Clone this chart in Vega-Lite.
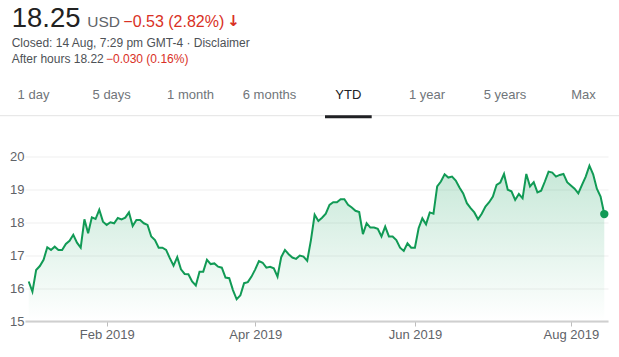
{
  "$schema": "https://vega.github.io/schema/vega-lite/v6.json",
  "autosize": {"type": "none"},
  "padding": {"left": 25, "top": 156.5, "right": 11, "bottom": 36},
  "width": 583,
  "height": 164.5,
  "background": "white",
  "config": {"view": {"stroke": null}, "font": "Liberation Sans", "text": {"font": "Liberation Sans"}},
  "data": {"values": [
    {"date":"2019-01-02","close":16.20},{"date":"2019-01-03","close":15.89},{"date":"2019-01-04","close":16.55},{"date":"2019-01-07","close":16.67},{"date":"2019-01-08","close":16.86},{"date":"2019-01-09","close":17.24},{"date":"2019-01-10","close":17.16},{"date":"2019-01-11","close":17.26},{"date":"2019-01-14","close":17.16},{"date":"2019-01-15","close":17.16},{"date":"2019-01-16","close":17.34},{"date":"2019-01-17","close":17.44},{"date":"2019-01-18","close":17.62},{"date":"2019-01-22","close":17.38},{"date":"2019-01-23","close":17.23},{"date":"2019-01-24","close":18.09},{"date":"2019-01-25","close":17.67},{"date":"2019-01-28","close":18.15},{"date":"2019-01-29","close":18.10},{"date":"2019-01-30","close":18.38},{"date":"2019-01-31","close":18.02},
    {"date":"2019-02-01","close":17.92},{"date":"2019-02-04","close":18.00},{"date":"2019-02-05","close":17.97},{"date":"2019-02-06","close":18.13},{"date":"2019-02-07","close":18.09},{"date":"2019-02-08","close":18.14},{"date":"2019-02-11","close":18.30},{"date":"2019-02-12","close":17.89},{"date":"2019-02-13","close":18.07},{"date":"2019-02-14","close":18.07},{"date":"2019-02-15","close":17.97},{"date":"2019-02-19","close":17.92},{"date":"2019-02-20","close":17.57},{"date":"2019-02-21","close":17.46},{"date":"2019-02-22","close":17.23},{"date":"2019-02-25","close":17.23},{"date":"2019-02-26","close":17.16},{"date":"2019-02-27","close":16.91},{"date":"2019-02-28","close":16.68},
    {"date":"2019-03-01","close":16.94},{"date":"2019-03-04","close":16.57},{"date":"2019-03-05","close":16.43},{"date":"2019-03-06","close":16.42},{"date":"2019-03-07","close":16.20},{"date":"2019-03-08","close":16.08},{"date":"2019-03-11","close":16.50},{"date":"2019-03-12","close":16.50},{"date":"2019-03-13","close":16.86},{"date":"2019-03-14","close":16.73},{"date":"2019-03-15","close":16.75},{"date":"2019-03-18","close":16.65},{"date":"2019-03-19","close":16.62},{"date":"2019-03-20","close":16.32},{"date":"2019-03-21","close":16.30},{"date":"2019-03-22","close":15.94},{"date":"2019-03-25","close":15.66},{"date":"2019-03-26","close":15.78},{"date":"2019-03-27","close":16.15},{"date":"2019-03-28","close":16.18},{"date":"2019-03-29","close":16.35},
    {"date":"2019-04-01","close":16.57},{"date":"2019-04-02","close":16.82},{"date":"2019-04-03","close":16.77},{"date":"2019-04-04","close":16.62},{"date":"2019-04-05","close":16.65},{"date":"2019-04-08","close":16.60},{"date":"2019-04-09","close":16.35},{"date":"2019-04-10","close":16.94},{"date":"2019-04-11","close":17.16},{"date":"2019-04-12","close":17.03},{"date":"2019-04-15","close":16.93},{"date":"2019-04-16","close":16.89},{"date":"2019-04-17","close":16.99},{"date":"2019-04-18","close":16.96},{"date":"2019-04-22","close":16.83},{"date":"2019-04-23","close":17.46},{"date":"2019-04-24","close":18.23},{"date":"2019-04-25","close":18.04},{"date":"2019-04-26","close":18.14},{"date":"2019-04-29","close":18.26},{"date":"2019-04-30","close":18.53},
    {"date":"2019-05-01","close":18.61},{"date":"2019-05-02","close":18.61},{"date":"2019-05-03","close":18.70},{"date":"2019-05-06","close":18.70},{"date":"2019-05-07","close":18.53},{"date":"2019-05-08","close":18.45},{"date":"2019-05-09","close":18.35},{"date":"2019-05-10","close":18.31},{"date":"2019-05-13","close":17.64},{"date":"2019-05-14","close":17.97},{"date":"2019-05-15","close":17.84},{"date":"2019-05-16","close":17.84},{"date":"2019-05-17","close":17.80},{"date":"2019-05-20","close":17.57},{"date":"2019-05-21","close":17.87},{"date":"2019-05-22","close":17.57},{"date":"2019-05-23","close":17.57},{"date":"2019-05-24","close":17.46},{"date":"2019-05-28","close":17.23},{"date":"2019-05-29","close":17.13},{"date":"2019-05-30","close":17.36},{"date":"2019-05-31","close":17.23},
    {"date":"2019-06-03","close":17.23},{"date":"2019-06-04","close":17.82},{"date":"2019-06-05","close":18.12},{"date":"2019-06-06","close":17.94},{"date":"2019-06-07","close":18.30},{"date":"2019-06-10","close":18.26},{"date":"2019-06-11","close":19.09},{"date":"2019-06-12","close":19.24},{"date":"2019-06-13","close":19.46},{"date":"2019-06-14","close":19.36},{"date":"2019-06-17","close":19.39},{"date":"2019-06-18","close":19.27},{"date":"2019-06-19","close":19.06},{"date":"2019-06-20","close":18.88},{"date":"2019-06-21","close":18.58},{"date":"2019-06-24","close":18.43},{"date":"2019-06-25","close":18.30},{"date":"2019-06-26","close":18.09},{"date":"2019-06-27","close":18.26},{"date":"2019-06-28","close":18.48},
    {"date":"2019-07-01","close":18.61},{"date":"2019-07-02","close":18.78},{"date":"2019-07-03","close":19.14},{"date":"2019-07-05","close":19.21},{"date":"2019-07-08","close":19.47},{"date":"2019-07-09","close":18.99},{"date":"2019-07-10","close":18.94},{"date":"2019-07-11","close":18.68},{"date":"2019-07-12","close":18.86},{"date":"2019-07-15","close":18.73},{"date":"2019-07-16","close":19.47},{"date":"2019-07-17","close":19.09},{"date":"2019-07-18","close":19.22},{"date":"2019-07-19","close":18.91},{"date":"2019-07-22","close":18.96},{"date":"2019-07-23","close":19.24},{"date":"2019-07-24","close":19.54},{"date":"2019-07-25","close":19.51},{"date":"2019-07-26","close":19.39},{"date":"2019-07-29","close":19.44},{"date":"2019-07-30","close":19.47},{"date":"2019-07-31","close":19.22},
    {"date":"2019-08-01","close":19.12},{"date":"2019-08-02","close":19.02},{"date":"2019-08-05","close":18.88},{"date":"2019-08-06","close":19.14},{"date":"2019-08-07","close":19.39},{"date":"2019-08-08","close":19.72},{"date":"2019-08-09","close":19.46},{"date":"2019-08-12","close":19.02},{"date":"2019-08-13","close":18.78},{"date":"2019-08-14","close":18.25}
  ]},
  "encoding": {
    "x": {"field": "date", "type": "ordinal", "title": null,
      "scale": {"type": "point", "padding": 1.3},
      "axis": {"values": ["2019-02-01", "2019-04-01", "2019-06-03", "2019-08-01"],
        "labelExpr": "utcFormat(toDate(datum.value), '%b %Y')",
        "labelAngle": 0, "labelFont": "Liberation Sans", "labelFontSize": 13, "labelColor": "#5f6368",
        "labelPadding": 2, "tickSize": 5, "tickColor": "#bdbdbd", "tickWidth": 1,
        "domainColor": "#cfcfcf", "domainWidth": 2, "grid": false}},
    "y": {"field": "close", "type": "quantitative", "title": null,
      "scale": {"domain": [15, 20], "nice": false, "zero": false},
      "axis": {"values": [15, 16, 17, 18, 19, 20], "domain": false, "ticks": false,
        "labelFont": "Liberation Sans", "labelFontSize": 13, "labelColor": "#5f6368", "labelPadding": 1,
        "gridColor": "#efefef", "gridWidth": 1}}
  },
  "layer": [
    {"mark": {"type": "area", "color": {"gradient": "linear", "x1": 0, "y1": 0, "x2": 0, "y2": 1,
      "stops": [{"offset": 0, "color": "rgba(15,157,88,0.24)"}, {"offset": 1, "color": "rgba(15,157,88,0)"}]}},
     "encoding": {"y2": {"datum": 15}}},
    {"mark": {"type": "line", "color": "#119a55", "strokeWidth": 2}},
    {"transform": [{"filter": "datum.date == '2019-08-14'"}],
     "mark": {"type": "point", "filled": true, "color": "#119a55", "opacity": 1, "size": 70}},
    {"data": {"values": [{}]}, "mark": {"type": "rule", "color": "#e3e3e3", "strokeWidth": 1},
     "encoding": {"x": {"value": -25}, "x2": {"value": 594}, "y": {"value": -40.8}}},
    {"data": {"values": [{}]}, "mark": {"type": "rule", "color": "#202124", "strokeWidth": 3},
     "encoding": {"x": {"value": 300}, "x2": {"value": 346.7}, "y": {"value": -39.8}}},
    {"data": {"values": [{}]}, "mark": {"type": "text", "text": "18.25", "fontSize": 27.5, "color": "#222222", "align": "left", "baseline": "alphabetic"},
     "encoding": {"x": {"value": -13.3}, "y": {"value": -129.6}}},
    {"data": {"values": [{}]}, "mark": {"type": "text", "text": "USD", "fontSize": 15.5, "color": "#5f6368", "align": "left", "baseline": "alphabetic"},
     "encoding": {"x": {"value": 62.3}, "y": {"value": -129.8}}},
    {"data": {"values": [{}]}, "mark": {"type": "text", "text": "−0.53 (2.82%)", "fontSize": 16, "color": "#d93025", "align": "left", "baseline": "alphabetic"},
     "encoding": {"x": {"value": 98.3}, "y": {"value": -129.8}}},
    {"data": {"values": [{}]}, "mark": {"type": "text", "text": "↓", "font": "DejaVu Sans", "fontSize": 15, "fontWeight": "bold", "color": "#d93025", "align": "center", "baseline": "alphabetic"},
     "encoding": {"x": {"value": 208.5}, "y": {"value": -130.5}}},
    {"data": {"values": [{}]}, "mark": {"type": "text", "text": "Closed: 14 Aug, 7:29 pm GMT-4 · Disclaimer", "fontSize": 12, "color": "#4d5156", "align": "left", "baseline": "alphabetic"},
     "encoding": {"x": {"value": -13.3}, "y": {"value": -109.2}}},
    {"data": {"values": [{}]}, "mark": {"type": "text", "text": "After hours 18.22", "fontSize": 12, "color": "#4d5156", "align": "left", "baseline": "alphabetic"},
     "encoding": {"x": {"value": -13.3}, "y": {"value": -93.2}}},
    {"data": {"values": [{}]}, "mark": {"type": "text", "text": "−0.030 (0.16%)", "fontSize": 12, "color": "#d93025", "align": "left", "baseline": "alphabetic"},
     "encoding": {"x": {"value": 81}, "y": {"value": -93.2}}},
    {"data": {"values": [{}]}, "mark": {"type": "text", "text": "1 day", "fontSize": 13, "color": "#70757a", "align": "center", "baseline": "alphabetic"},
     "encoding": {"x": {"value": 8.5}, "y": {"value": -57.5}}},
    {"data": {"values": [{}]}, "mark": {"type": "text", "text": "5 days", "fontSize": 13, "color": "#70757a", "align": "center", "baseline": "alphabetic"},
     "encoding": {"x": {"value": 86.7}, "y": {"value": -57.5}}},
    {"data": {"values": [{}]}, "mark": {"type": "text", "text": "1 month", "fontSize": 13, "color": "#70757a", "align": "center", "baseline": "alphabetic"},
     "encoding": {"x": {"value": 165.6}, "y": {"value": -57.5}}},
    {"data": {"values": [{}]}, "mark": {"type": "text", "text": "6 months", "fontSize": 13, "color": "#70757a", "align": "center", "baseline": "alphabetic"},
     "encoding": {"x": {"value": 244.5}, "y": {"value": -57.5}}},
    {"data": {"values": [{}]}, "mark": {"type": "text", "text": "YTD", "fontSize": 13, "color": "#202124", "align": "center", "baseline": "alphabetic"},
     "encoding": {"x": {"value": 323.3}, "y": {"value": -57.5}}},
    {"data": {"values": [{}]}, "mark": {"type": "text", "text": "1 year", "fontSize": 13, "color": "#70757a", "align": "center", "baseline": "alphabetic"},
     "encoding": {"x": {"value": 402}, "y": {"value": -57.5}}},
    {"data": {"values": [{}]}, "mark": {"type": "text", "text": "5 years", "fontSize": 13, "color": "#70757a", "align": "center", "baseline": "alphabetic"},
     "encoding": {"x": {"value": 480}, "y": {"value": -57.5}}},
    {"data": {"values": [{}]}, "mark": {"type": "text", "text": "Max", "fontSize": 13, "color": "#70757a", "align": "center", "baseline": "alphabetic"},
     "encoding": {"x": {"value": 558.5}, "y": {"value": -57.5}}}
  ]
}
